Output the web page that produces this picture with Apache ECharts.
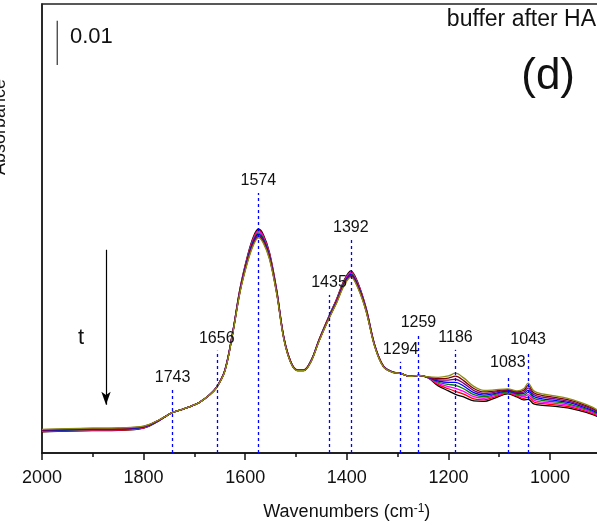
<!DOCTYPE html>
<html><head><meta charset="utf-8">
<script src="https://cdn.jsdelivr.net/npm/echarts@6/dist/echarts.min.js"></script>
<style>html,body{margin:0;padding:0;background:#fff}#c{width:597px;height:531px}</style>
</head><body><div id="c"></div>
<script>
// Wavenumbers (cm-1)
const wavenumbers = [2000,1950,1900,1850,1810,1790,1770,1755,1743,1730,1710,1690,1670,1656,1640,1625,1610,1595,1584,1574,1564,1552,1538,1524,1510,1497,1485,1470,1455,1435,1420,1405,1392,1378,1362,1345,1328,1310,1294,1275,1259,1240,1220,1200,1186,1170,1150,1130,1110,1083,1065,1052,1043,1032,1015,990,965,940,920,900];
// Absorbance values in milli-absorbance units (1e-3), one array per spectrum
const spec1 = [-0.23,-0.07,0.05,0.11,0.41,1.02,2.26,3.39,4.18,4.63,5.42,6.43,8.13,9.93,13.77,22.12,32.28,39.72,43.79,45.59,44.24,40.17,31.82,21.22,15.57,13.77,13.77,16.02,20.54,25.96,29.79,34.08,36.11,33.40,27.76,19.41,14.67,13.32,12.98,12.30,12.53,11.96,10.16,9.03,8.24,7.67,6.77,6.66,7.34,8.35,7.67,7.00,7.11,6.09,5.76,5.53,5.19,4.51,3.84,2.93];
const spec2 = [-0.15,0.01,0.13,0.19,0.48,1.08,2.29,3.39,4.18,4.63,5.42,6.43,8.13,9.92,13.73,22.05,32.15,39.51,43.52,45.30,43.97,39.96,31.69,21.15,15.53,13.74,13.74,15.98,20.48,25.87,29.66,33.91,35.91,33.23,27.65,19.35,14.64,13.31,12.98,12.30,12.53,11.99,10.43,9.51,8.92,8.28,7.24,7.01,7.61,8.51,7.86,7.35,7.63,6.51,6.13,5.87,5.50,4.78,4.08,3.12];
const spec3 = [-0.07,0.09,0.21,0.27,0.55,1.13,2.32,3.39,4.18,4.63,5.42,6.43,8.13,9.90,13.68,21.98,32.02,39.29,43.25,45.02,43.70,39.74,31.56,21.08,15.48,13.71,13.71,15.93,20.43,25.79,29.53,33.74,35.71,33.06,27.53,19.30,14.61,13.29,12.98,12.30,12.53,12.03,10.71,10.00,9.61,8.90,7.71,7.37,7.89,8.67,8.06,7.71,8.16,6.93,6.50,6.21,5.80,5.06,4.32,3.32];
const spec4 = [0.01,0.17,0.29,0.35,0.62,1.19,2.35,3.39,4.18,4.63,5.42,6.43,8.13,9.89,13.64,21.91,31.89,39.08,42.97,44.73,43.42,39.53,31.43,21.01,15.44,13.68,13.68,15.89,20.37,25.70,29.40,33.57,35.51,32.89,27.42,19.24,14.58,13.28,12.98,12.30,12.53,12.06,10.98,10.48,10.29,9.51,8.17,7.72,8.16,8.83,8.25,8.06,8.68,7.35,6.87,6.55,6.11,5.33,4.57,3.51];
const spec5 = [0.09,0.25,0.37,0.43,0.70,1.25,2.37,3.39,4.18,4.63,5.42,6.43,8.13,9.87,13.60,21.83,31.77,38.86,42.71,44.45,43.16,39.31,31.31,20.93,15.40,13.66,13.66,15.85,20.31,25.62,29.28,33.39,35.31,32.71,27.30,19.18,14.56,13.26,12.98,12.30,12.53,12.09,11.26,10.96,10.97,10.12,8.64,8.08,8.43,9.00,8.45,8.42,9.20,7.77,7.24,6.88,6.42,5.61,4.80,3.71];
const spec6 = [0.17,0.33,0.45,0.51,0.77,1.31,2.40,3.39,4.18,4.63,5.42,6.43,8.13,9.86,13.56,21.76,31.64,38.65,42.43,44.16,42.88,39.10,31.18,20.86,15.36,13.63,13.63,15.81,20.25,25.53,29.15,33.22,35.11,32.54,27.19,19.12,14.53,13.25,12.98,12.30,12.53,12.12,11.53,11.44,11.65,10.73,9.10,8.43,8.70,9.16,8.64,8.77,9.72,8.19,7.61,7.22,6.73,5.88,5.05,3.90];
const spec7 = [0.25,0.41,0.53,0.59,0.84,1.36,2.43,3.39,4.18,4.63,5.42,6.43,8.13,9.84,13.51,21.69,31.51,38.43,42.16,43.88,42.61,38.88,31.05,20.79,15.31,13.60,13.60,15.76,20.20,25.45,29.02,33.05,34.91,32.37,27.07,19.07,14.50,13.23,12.98,12.30,12.53,12.16,11.81,11.93,12.34,11.35,9.57,8.79,8.98,9.32,8.84,9.13,10.25,8.61,7.98,7.56,7.03,6.16,5.29,4.10];
const spec8 = [0.33,0.49,0.61,0.67,0.91,1.42,2.46,3.39,4.18,4.63,5.42,6.43,8.13,9.83,13.47,21.62,31.38,38.22,41.89,43.59,42.34,38.67,30.92,20.72,15.27,13.57,13.57,15.72,20.14,25.36,28.89,32.88,34.71,32.20,26.96,19.01,14.47,13.22,12.98,12.30,12.53,12.19,12.08,12.41,13.02,11.96,10.04,9.14,9.25,9.48,9.03,9.48,10.77,9.03,8.35,7.90,7.34,6.43,5.53,4.29];
const spectra = [spec1,spec2,spec3,spec4,spec5,spec6,spec7,spec8];
const specColors = ['#000000','#ff0000','#ff00ff','#008000','#0000ff','#800080','#800000','#8c8c14'];

// Marked band positions and the top of their dashed guide lines (mAbs)
const peakPositions = [1743,1656,1574,1435,1392,1294,1259,1186,1083,1043];
const peakLineTops  = [9.3,18.1,53.7,30.7,43.1,15.6,21.7,18.3,12.6,17.8];

// Scale bar (0.01 absorbance = 10 mAbs) and time arrow
const scaleBarX = 1970, scaleBarBottom = 82.6, scaleBarTop = 92.6;
const scaleBarLabel = {text:'0.01', x:1945, y:88.9};
const arrowX = 1874, arrowTop = 40.9, arrowBottom = 5.9;
const arrowLabel = {text:'t', x:1923, y:21};

const FONT = 'Liberation Sans, Arial, sans-serif';
const chart = echarts.init(document.getElementById('c'), null, {renderer:'canvas'});

const specSeries = spectra.map((s, i) => ({
  type:'line', data: wavenumbers.map((w,k)=>[w, s[k]]), showSymbol:false, smooth:0.35,
  lineStyle:{color:specColors[i], width:1.3}, itemStyle:{color:specColors[i]}, z:3, silent:true
}));

const option = {
  animation:false,
  grid:{left:42, top:4, right:-54.6, bottom:78, show:true, borderColor:'#222', borderWidth:1.6,
        backgroundColor:'transparent', containLabel:false, outerBoundsMode:'none'},
  xAxis:{type:'value', min:800, max:2000, interval:200, inverse:true,
    axisLine:{show:true, onZero:false, lineStyle:{color:'#111', width:1.6}},
    axisTick:{show:true, length:7, lineStyle:{color:'#111', width:1.5}},
    minorTick:{show:true, splitNumber:2, length:4, lineStyle:{color:'#111', width:1.5}},
    splitLine:{show:false},
    axisLabel:{fontSize:18, color:'#111', margin:16, fontFamily:FONT, formatter:v=>String(v)},
    name:'Wavenumbers (cm{sup|-1})', nameLocation:'middle', nameGap:50,
    nameTextStyle:{fontSize:18, color:'#111', fontFamily:FONT, rich:{sup:{fontSize:12, verticalAlign:'top', color:'#111', fontFamily:FONT}}}
  },
  yAxis:{type:'value', min:-5, max:96.4, axisLine:{show:true, onZero:false, lineStyle:{color:'#222', width:1.6}},
    axisTick:{show:false}, axisLabel:{show:false}, splitLine:{show:false}},
  graphic:[
    {type:'text', id:'yname', x:0, y:127, rotation:Math.PI/2, style:{text:'Absorbance', fontSize:18, fill:'#111', fontFamily:FONT, align:'center', verticalAlign:'middle'}},
    {type:'text', id:'cond', x:596, y:20, style:{text:'buffer after HA', fontSize:23, fill:'#111', fontFamily:FONT, align:'right', verticalAlign:'middle'}},
    {type:'text', id:'panel', x:575, y:77, style:{text:'(d)', fontSize:44, fill:'#111', fontFamily:FONT, align:'right', verticalAlign:'middle'}}
  ],
  series:[
    ...specSeries,
    {type:'line', data:[], silent:true, z:2,
      markLine:{silent:true, symbol:'none', animation:false,
        lineStyle:{color:'#0000ff', type:[3,3], width:1.3},
        label:{show:true, position:'end', distance:4, formatter:'{b}', fontSize:16, color:'#111', fontFamily:FONT},
        data: peakPositions.map((w,i)=>[
          {coord:[w,-5], name:String(w), lineStyle:{color:'#0000ff', type:[3,3], width:1.3}},
          {coord:[w,peakLineTops[i]]}])}},
    {type:'line', data:[[scaleBarX, scaleBarBottom],[scaleBarX, scaleBarTop]], showSymbol:false, silent:true,
      lineStyle:{color:'#333', width:1.2}, z:4},
    {type:'line', data:[], silent:true, z:4,
      markLine:{silent:true, symbol:['none','arrow'], symbolSize:[7,13], animation:false,
        lineStyle:{color:'#000', width:1.2, type:'solid'}, itemStyle:{color:'#000'}, label:{show:false},
        data:[[{coord:[arrowX, arrowTop]},{coord:[arrowX, arrowBottom]}]]}}
  ]
};
chart.setOption(option);

// place the scale-bar and arrow captions through the chart's own axis scales
const p1 = chart.convertToPixel({gridIndex:0}, [scaleBarLabel.x, scaleBarLabel.y]);
const p2 = chart.convertToPixel({gridIndex:0}, [arrowLabel.x, arrowLabel.y]);
chart.setOption({graphic:[
  {type:'text', id:'sbl', x:p1[0], y:p1[1], style:{text:scaleBarLabel.text, fontSize:22, fill:'#111', fontFamily:FONT, align:'left', verticalAlign:'middle'}},
  {type:'text', id:'arl', x:p2[0], y:p2[1], style:{text:arrowLabel.text, fontSize:22, fill:'#111', fontFamily:FONT, align:'center', verticalAlign:'middle'}}
]});
</script></body></html>
